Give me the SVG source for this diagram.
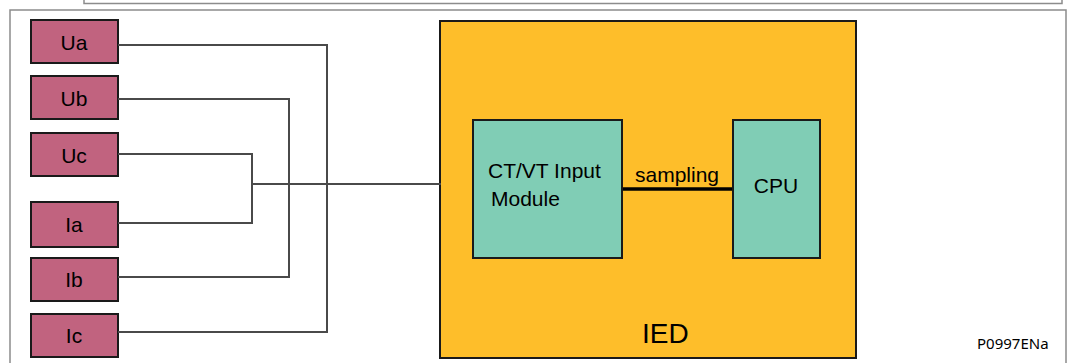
<svg xmlns="http://www.w3.org/2000/svg" width="1072" height="363" viewBox="0 0 1072 363">
<style>
.frame{fill:none;stroke:#8c8c8c;stroke-width:1.5}
.src rect{fill:#C1637F;stroke:#1a1a1a;stroke-width:2}
.src text{font-family:"Liberation Sans",Arial,sans-serif;font-size:21px;fill:#000;text-anchor:middle}
.wire{fill:none;stroke:#4a4a4a;stroke-width:2}
.mod{fill:#80CDB5;stroke:#1a1a1a;stroke-width:2}
.lbl{font-family:"Liberation Sans",Arial,sans-serif;font-size:21px;fill:#000}
</style>
<rect width="1072" height="363" fill="#fff"/>
<path class="frame" d="M84,-2 V3.5 H1062 V-2"/>
<path class="frame" d="M10,370 V10 H1066 V370"/>
<g id="node-IED">
<rect x="440" y="21" width="416" height="337" fill="#FEBE2A" stroke="#1a1a1a" stroke-width="2"/>
<text class="lbl" x="642" y="343" style="font-size:28px">IED</text>
</g>
<g id="node-ctvt">
<rect class="mod" x="473" y="120" width="149" height="138"/>
<text class="lbl" x="488" y="178">CT/VT Input</text>
<text class="lbl" x="491" y="206">Module</text>
</g>
<g id="node-cpu">
<rect class="mod" x="733" y="120" width="87" height="138"/>
<text class="lbl" x="776" y="193" text-anchor="middle">CPU</text>
</g>
<g id="node-Ua" class="src"><rect x="31" y="20" width="87" height="43"/><text x="74" y="50">Ua</text></g>
<g id="node-Ub" class="src"><rect x="31" y="76" width="87" height="43"/><text x="74" y="106">Ub</text></g>
<g id="node-Uc" class="src"><rect x="31" y="133" width="87" height="43"/><text x="74" y="163">Uc</text></g>
<g id="node-Ia" class="src"><rect x="31" y="202" width="87" height="45"/><text x="74" y="232">Ia</text></g>
<g id="node-Ib" class="src"><rect x="31" y="258" width="87" height="43"/><text x="74" y="287">Ib</text></g>
<g id="node-Ic" class="src"><rect x="31" y="314" width="87" height="43"/><text x="74" y="343">Ic</text></g>
<g id="connectors">
<path class="wire" d="M118,45 H327 V332 H118"/>
<path class="wire" d="M118,99 H289 V277 H118"/>
<path class="wire" d="M118,154 H252 V223 H118"/>
<path class="wire" d="M252,184 H327"/>
<path class="wire" d="M327,184 H441" stroke-width="3"/>
<path d="M623,189 H732" fill="none" stroke="#000" stroke-width="3.5"/>
<text class="lbl" x="635" y="182">sampling</text>
</g>
<text x="977" y="349" font-family="'Noto Sans','Open Sans',sans-serif" font-size="15" fill="#000">P0997ENa</text>
</svg>
